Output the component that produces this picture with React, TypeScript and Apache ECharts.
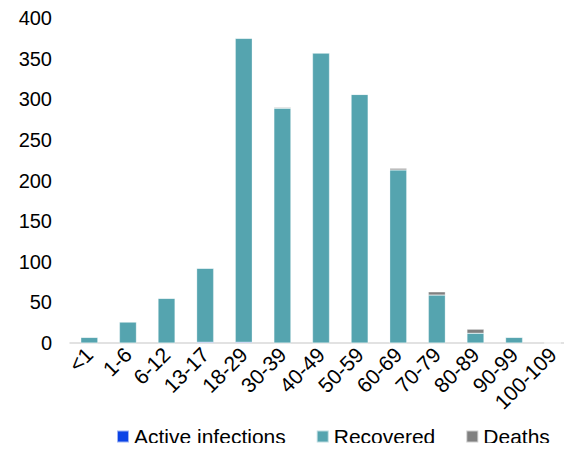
import React, { useEffect, useRef } from "react";
import * as echarts from "echarts";

const categories = ["<1", "1-6", "6-12", "13-17", "18-29", "30-39", "40-49", "50-59", "60-69", "70-79", "80-89", "90-99", "100-109"];
const activeInfections = [0, 0, 0, 1, 1, 0, 0, 0, 0, 0, 0, 0, 0];
const recovered = [7, 26, 55, 91, 374, 289, 357, 306, 213, 59, 12, 7, 0];
const deaths = [0, 0, 0, 0, 0, 1, 0, 0, 2, 4, 5, 0, 0];

export default function App() {
  const ref = useRef<HTMLDivElement>(null);
  useEffect(() => {
    const chart = echarts.init(ref.current!, null, { renderer: "svg" });
    const font = "Liberation Sans, Arial, sans-serif";
    const barBase = {
      type: "bar" as const,
      stack: "total",
      barWidth: 17,
      itemStyle: { borderColor: "rgba(255,255,255,0.6)", borderWidth: 0.5 },
    };
    chart.setOption({
      animation: false,
      grid: { left: 70, top: 18, height: 325, width: 518 },
      legend: {
        top: 421,
        left: 111,
        padding: [5, 5, 5, 5],
        itemWidth: 12,
        itemHeight: 12,
        itemGap: 30,
        icon: "rect",
        textStyle: { fontSize: 21, fontFamily: font, color: "#000" },
        data: ["Active infections", "Recovered", "Deaths"],
      },
      xAxis: {
        type: "category",
        data: categories,
        axisLine: { lineStyle: { color: "#D9D9D9", width: 1.5 } },
        axisTick: { show: false },
        axisLabel: { interval: 0, rotate: 45, fontSize: 21, fontFamily: font, color: "#000", margin: 8 },
      },
      yAxis: {
        type: "value",
        min: 0,
        max: 400,
        interval: 50,
        splitLine: { show: false },
        axisLine: { show: false },
        axisTick: { show: false },
        axisLabel: { fontSize: 20, fontFamily: font, color: "#000", margin: 18 },
      },
      series: [
        { ...barBase, name: "Active infections", data: activeInfections, itemStyle: { ...barBase.itemStyle, color: "#0B43E6" } },
        { ...barBase, name: "Recovered", data: recovered, itemStyle: { ...barBase.itemStyle, color: "#55A4AF" } },
        { ...barBase, name: "Deaths", data: deaths, itemStyle: { ...barBase.itemStyle, color: "#808080" } },
      ],
    });
    return () => chart.dispose();
  }, []);
  return <div ref={ref} style={{ width: 572, height: 451, margin: -8 }} />;
}
